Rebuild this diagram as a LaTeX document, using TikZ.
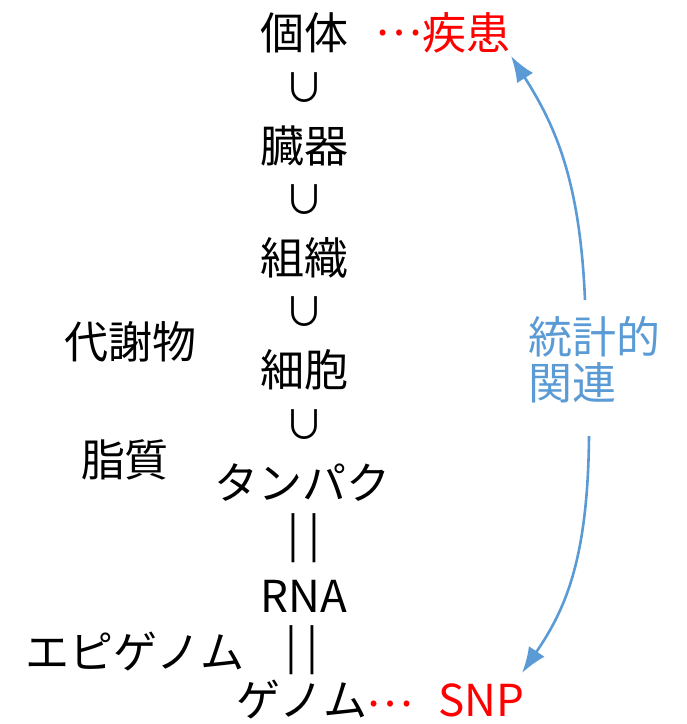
\documentclass[tikz,border=0pt]{standalone}
\usepackage{fontspec}
\setmainfont{Noto Sans CJK JP}
\usetikzlibrary{arrows.meta}
\definecolor{assoc}{RGB}{91,155,213}
\definecolor{hit}{RGB}{255,0,0}
\begin{document}
\begin{tikzpicture}[x=1pt,y=-1pt,
  every node/.style={inner sep=0pt, font=\fontsize{44}{50}\selectfont},
  lvl/.style={text=black},
  hitlbl/.style={text=hit},
  rel/.style={text=assoc, align=left},
  subset/.style={text=black, font=\fontsize{40}{44}\selectfont},
  assocarrow/.style={draw=assoc, line width=2.6pt, -{Latex[length=26pt,width=19pt]}}]
\useasboundingbox (0,0) rectangle (687,724);
% main column
\node[lvl] (kotai) at (304,33) {個体};
\node[subset] (s1) at (304,88) {∪};
\node[lvl] (zouki) at (304,146) {臓器};
\node[subset] (s2) at (304,200) {∪};
\node[lvl] (soshiki) at (304,258) {組織};
\node[subset] (s3) at (304,312) {∪};
\node[lvl] (saibou) at (304,370) {細胞};
\node[subset] (s4) at (304,425) {∪};
\node[lvl] (tanpaku) at (302,483) {タンパク};
\node[lvl] (eq1) at (304,538) {|\hspace{9pt}|};
\node[lvl] (rna) at (304,596) {RNA};
\node[lvl] (eq2) at (302,650) {|\hspace{9pt}|};
\node[lvl] (genome) at (302,700) {ゲノム};
\node[hitlbl] (gdots) at (390,704) {…};
\node[hitlbl] (snp) at (481,700) {SNP};
\node[hitlbl] (sdots) at (399,33) {…};
\node[hitlbl] (shikkan) at (466,33) {疾患};
% side labels
\node[lvl] (taisha) at (130,342) {代謝物};
\node[lvl] (shishitsu) at (125,460) {脂質};
\node[lvl] (epi) at (135,652) {エピゲノム};
\node[rel, anchor=north west] (stat) at (528,316) {統計的\\[-4pt]関連};
% arrows
\coordinate (upStart) at (585,300);
\coordinate (upTip) at (511,56);
\coordinate (dnStart) at (589,436);
\coordinate (dnTip) at (522,673);
\draw[assocarrow] (upStart) .. controls (580,180) and (555,125) .. (upTip);
\draw[assocarrow] (dnStart) .. controls (588,560) and (565,610) .. (dnTip);
\end{tikzpicture}
\end{document}
